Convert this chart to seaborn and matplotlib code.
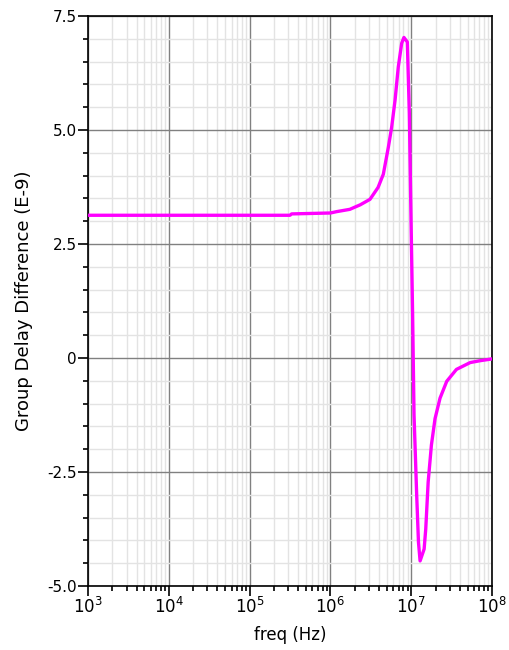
import numpy as np
import pandas as pd
import matplotlib
matplotlib.use("Agg")
import matplotlib.pyplot as plt
import seaborn as sns
from matplotlib.ticker import FixedLocator, LogLocator, NullFormatter

# data (log10 of frequency, group delay difference E-9)
log_freq = [3.0, 4.0, 5.0, 5.5, 5.52, 6.0, 6.078, 6.24, 6.37, 6.49, 6.59, 6.655, 6.717,
            6.758, 6.80, 6.84, 6.882, 6.91, 6.952, 6.977, 6.994, 7.018, 7.035, 7.068,
            7.09, 7.11, 7.16, 7.18, 7.21, 7.25, 7.295, 7.357, 7.44, 7.56, 7.73, 7.85, 8.0]
delay = [3.13, 3.13, 3.13, 3.13, 3.16, 3.18, 3.21, 3.26, 3.36, 3.48, 3.74, 4.03, 4.62,
         5.06, 5.65, 6.38, 6.90, 7.03, 6.93, 5.36, 3.45, 0.9, -1.25, -3.01,
         -4.04, -4.45, -4.19, -3.75, -2.72, -1.91, -1.33, -0.88, -0.51, -0.25, -0.10, -0.06, -0.02]

y_ticks = [-5.0, -2.5, 0.0, 2.5, 5.0, 7.5]
y_tick_labels = ["-5.0", "-2.5", "0", "2.5", "5.0", "7.5"]
x_ticks = [1e3, 1e4, 1e5, 1e6, 1e7, 1e8]
x_tick_labels = [r"$10^{3}$", r"$10^{4}$", r"$10^{5}$", r"$10^{6}$", r"$10^{7}$", r"$10^{8}$"]

df = pd.DataFrame({"freq": np.power(10.0, log_freq), "delay": delay})

sns.set_style("white")
plt.rcParams["font.family"] = ["DejaVu Sans"]
plt.rcParams["mathtext.fontset"] = "dejavusans"
plt.rcParams["text.color"] = "black"
plt.rcParams["axes.labelcolor"] = "black"

fig = plt.figure(figsize=(5.1, 6.5), dpi=100)
ax = fig.add_axes([88/510, 1-586/650, (492-88)/510, (586-16)/650])

sns.lineplot(data=df, x="freq", y="delay", ax=ax, color="#FF00FF", linewidth=2.4, zorder=5)
ax.set_xscale("log")
ax.set_xlim(1e3, 1e8)
ax.set_ylim(-5.0, 7.5)

ax.set_xticks(x_ticks)
ax.set_xticklabels(x_tick_labels, fontsize=12)
ax.xaxis.set_minor_locator(LogLocator(base=10, subs=np.arange(2, 10), numticks=50))
ax.xaxis.set_minor_formatter(NullFormatter())
ax.set_yticks(y_ticks)
ax.set_yticklabels(y_tick_labels, fontsize=11)
ax.yaxis.set_minor_locator(FixedLocator(np.arange(-5.0, 7.51, 0.5)))

ax.grid(which="major", color="#808080", linewidth=1.0, zorder=1)
ax.grid(which="minor", color="#e3e3e3", linewidth=1.0, zorder=0)
ax.set_axisbelow(True)

for s in ax.spines.values():
    s.set_color("black")
    s.set_linewidth(1.2)
ax.tick_params(axis="y", which="major", direction="out", length=7, width=1.2, color="black",
               labelcolor="black", left=True, pad=1)
ax.tick_params(axis="x", which="major", direction="out", length=7, width=1.2, color="black",
               labelcolor="black", bottom=True, pad=1)
ax.tick_params(which="minor", direction="out", length=3.5, width=1.2, color="black",
               left=True, bottom=True)

ax.set_xlabel("freq (Hz)", fontsize=12, labelpad=6)
ax.set_ylabel("Group Delay Difference (E-9)", fontsize=13, labelpad=10)

fig.savefig("out.png", dpi=100)
